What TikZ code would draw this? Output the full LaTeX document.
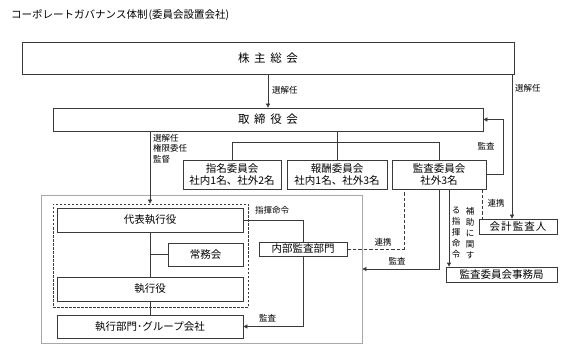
\documentclass[tikz,border=0pt]{standalone}
\usepackage{fontspec}
\setmainfont{Noto Sans CJK JP}
\usetikzlibrary{arrows.meta}
\definecolor{linec}{HTML}{3A3A3A}
\definecolor{regc}{HTML}{A8A8A8}
\tikzset{
  box/.style={draw=linec, line width=0.7pt, inner sep=0pt, align=center, font=\fontsize{10.5}{12.5}\selectfont},
  bigbox/.style={box, font=\fontsize{11.5}{13}\selectfont},
  conn/.style={draw=linec, line width=0.7pt},
  arr/.style={conn, -{Triangle[length=4pt,width=4pt]}},
  dconn/.style={conn, dash pattern=on 3.5pt off 2pt},
  lbl/.style={inner sep=0pt, font=\fontsize{8.5}{10.5}\selectfont, text=black},
}
\begin{document}
\begin{tikzpicture}[x=1pt,y=-1pt]
\useasboundingbox (0,0) rectangle (583,347);
\fill[white] (0,0) rectangle (583,347);

\node[anchor=west, inner sep=0pt, font=\fontsize{10.5}{12}\selectfont] (title) at (11,15) {コーポレートガバナンス体制\hspace{0.1em}(委員会設置会社)};

% main boxes
\node[bigbox, minimum width=492pt, minimum height=32pt] (sh) at (268,58) {株\hspace{0.4em}主\hspace{0.4em}総\hspace{0.4em}会};
\node[bigbox, minimum width=430pt, minimum height=23pt] (tb) at (268,119.5) {取\hspace{0.4em}締\hspace{0.4em}役\hspace{0.4em}会};

\node[box, minimum width=98pt, minimum height=29pt] (nom) at (232,174.5) {指名委員会\\社内1名、社外2名};
\node[box, minimum width=100pt, minimum height=29pt] (rem) at (337,174.5) {報酬委員会\\社内1名、社外3名};
\node[box, minimum width=94pt, minimum height=29pt] (aud) at (439,174.5) {監査委員会\\社外3名};

% execution region
\node[draw=regc, line width=0.8pt, minimum width=321pt, minimum height=148pt, inner sep=0pt] (exreg) at (201.5,269) {};
\node[draw=linec, line width=0.7pt, dash pattern=on 2.5pt off 1.5pt, minimum width=195pt, minimum height=103pt, inner sep=0pt] (dbox) at (150.5,255.5) {};

\node[box, minimum width=186pt, minimum height=24pt] (ceo) at (150,220) {代表執行役};
\node[box, minimum width=75pt, minimum height=23pt] (jom) at (205.5,254.5) {常務会};
\node[box, minimum width=186pt, minimum height=24pt] (exe) at (150,289) {執行役};
\node[box, minimum width=186pt, minimum height=23pt] (grp) at (150,326.5) {執行部門･グループ会社};

\node[box, minimum width=88pt, minimum height=14pt] (ia) at (303,249) {内部監査部門};
\node[box, minimum width=78pt, minimum height=15pt] (ca) at (518,226.5) {会\hspace{0.1em}計\hspace{0.1em}監\hspace{0.1em}査\hspace{0.1em}人};
\node[box, minimum width=111pt, minimum height=15pt] (aco) at (501.5,274.5) {監査委員会事務局};

% helper coordinates
\coordinate (x512) at (512,0);
\coordinate (x503) at (503,0);
\coordinate (bus) at (0,142);
\coordinate (x404) at (404,0);
\coordinate (x449) at (449,0);
\coordinate (x482) at (482,0);

% connectors
\draw[arr] (sh.south) -- (tb.north);
\node[lbl, anchor=west] (l1) at (272,90) {選解任};

\draw[arr] (sh.south -| x512) -- (ca.north -| x512);
\node[lbl, anchor=west] (l2) at (515,88) {選解任};

\draw[arr] (aud.east) -- (aud.east -| x503) -- (tb.east -| x503) -- (tb.east);
\node[lbl] (l3) at (486,146) {監査};

\draw[conn] (tb.south -| rem.north) -- (rem.north);
\draw[conn] (nom.north) -- (nom.north |- bus) -- (aud.north |- bus) -- (aud.north);

\draw[arr] (tb.south -| ceo.north) -- (dbox.north -| ceo.north);
\node[lbl, anchor=north west, align=left] (l4) at (153,134) {選解任\\権限委任\\監督};

\draw[conn] (ceo.south) -- (exe.north);
\draw[conn] (exe.south) -- (grp.north);
\draw[conn] (jom.west) -- (jom.west -| ceo.south);

\draw[conn] (ceo.east) -| (ia.north);
\node[lbl, anchor=west] (l5) at (255,210) {指揮命令};

\draw[arr] (ia.south) |- (grp.east);
\node[lbl, anchor=west] (l6) at (259,318) {監査};

\draw[dconn] (ia.east) -- (ia.east -| x404) -- (aud.south -| x404);
\node[lbl] (l7) at (383,242) {連携};

\draw[arr] (aud.south) |- (exreg.east);
\node[lbl] (l8) at (397,261) {監査};

\draw[arr] (aud.south -| x449) -- (aco.north -| x449);
\node[lbl, align=center, font=\fontsize{8.5}{11}\selectfont] (v1) at (470,233) {補\\助\\に\\関\\す};
\node[lbl, align=center, font=\fontsize{8.5}{11}\selectfont] (v2) at (456,233) {る\\指\\揮\\命\\令};

\draw[dconn] (aud.south -| x482) -- (ca.north -| x482);
\node[lbl] (l9) at (496,203) {連携};
\end{tikzpicture}
\end{document}
